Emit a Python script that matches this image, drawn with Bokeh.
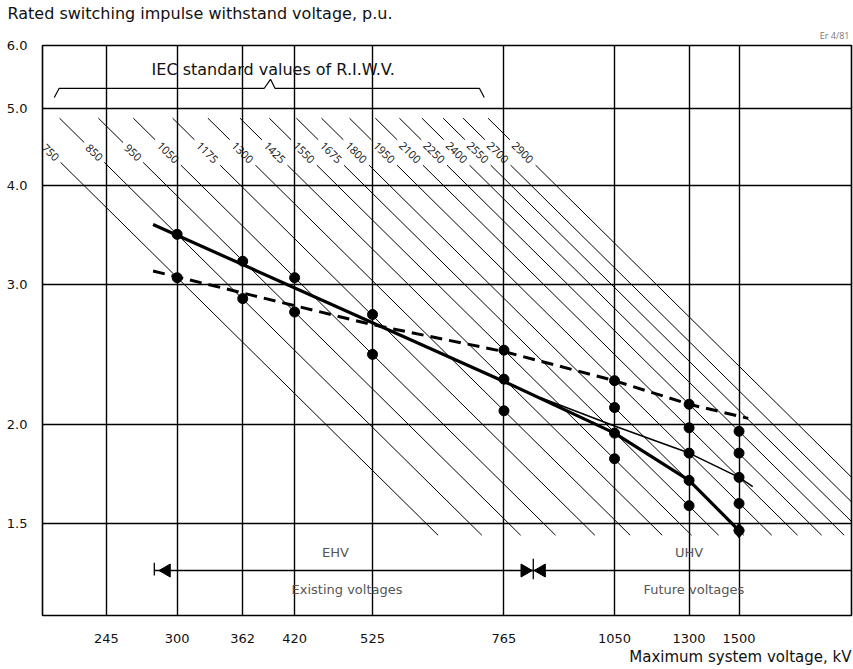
import numpy as np
from bokeh.plotting import figure
from bokeh.models import Range1d, FixedTicker, PrintfTickFormatter, Title
from bokeh.embed import file_html
from bokeh.resources import INLINE
from bokeh.core.properties import value

# ---------------- data ----------------
x_ticks = [245, 300, 362, 420, 525, 765, 1050, 1300, 1500]
y_ticks = [1.5, 2.0, 3.0, 4.0, 5.0, 6.0]

# IEC standard values of rated switching impulse withstand voltage (kV)
riwv_levels = [750, 850, 950, 1050, 1175, 1300, 1425, 1550, 1675, 1800,
               1950, 2100, 2250, 2400, 2550, 2700, 2900]

# plotted points: maximum system voltage (kV) and p.u. value
point_um = [300, 300, 362, 362, 420, 420, 525, 525,
            765, 765, 765,
            1050, 1050, 1050, 1050,
            1300, 1300, 1300, 1300, 1300,
            1500, 1500, 1500, 1500, 1500]
point_pu = [3.47, 3.06, 3.21, 2.88, 3.06, 2.77, 2.75, 2.45,
            2.48, 2.28, 2.08,
            2.27, 2.10, 1.95, 1.81,
            2.12, 1.98, 1.84, 1.70, 1.58,
            1.96, 1.84, 1.715, 1.59, 1.47]

# curves
thick_um = [280, 765, 1050, 1300, 1500]
thick_pu = [3.57, 2.265, 1.95, 1.70, 1.47]
thin_um = [850, 1050, 1300, 1500, 1560]
thin_pu = [2.16, 1.99, 1.84, 1.715, 1.67]
dashed_um = [280, 525, 765, 1050, 1300, 1540]
dashed_pu = [3.12, 2.67, 2.47, 2.27, 2.12, 2.035]

# ---------------- figure ----------------
FONT = "Open Sans"
WIDE = "DejaVu Sans"
p = figure(width=853, height=669, x_axis_type="log", y_axis_type="log",
           x_range=Range1d(204, 2070), y_range=Range1d(1.149, 6.0),
           output_backend="svg", toolbar_location=None,
           min_border_left=42, min_border_right=2, min_border_top=45,
           min_border_bottom=54, background_fill_color="white",
           border_fill_color="white")

p.outline_line_color = "black"
p.outline_line_width = 1.6

for ax, ticks, fmt, standoff in ((p.xaxis[0], x_ticks, "%d", 12),
                                 (p.yaxis[0], y_ticks, "%.1f", 9)):
    ax.ticker = FixedTicker(ticks=ticks, minor_ticks=[])
    ax.formatter = PrintfTickFormatter(format=fmt)
    ax.axis_line_color = None
    ax.major_tick_line_color = None
    ax.minor_tick_line_color = None
    ax.major_label_standoff = standoff
    ax.major_label_text_font = WIDE
    ax.major_label_text_font_size = "13px"
    ax.major_label_text_color = "#111111"

for g in (p.xgrid[0], p.ygrid[0]):
    g.grid_line_color = "black"
    g.grid_line_width = 1.4
    g.grid_line_alpha = 1.0

# ---------------- diagonal RIWV lines ----------------
k = np.sqrt(1.5)  # p.u. = kV * sqrt(3)/(sqrt(2)*Um)
pu_top, pu_lab, pu_bot = 4.86, 4.4, 1.45
xs, ys = [], []
lab_x, lab_y, lab_t = [], [], []
for r in riwv_levels:
    gap = 0.0125 if r < 1000 else 0.016
    up1, up2 = pu_top, pu_lab * 10 ** gap
    lo1, lo2 = pu_lab * 10 ** (-gap), pu_bot
    xs.append([r * k / up1, r * k / up2]); ys.append([up1, up2])
    xs.append([r * k / lo1, r * k / lo2]); ys.append([lo1, lo2])
    lab_x.append(r * k / pu_lab); lab_y.append(pu_lab); lab_t.append(str(r))
p.multi_line(xs, ys, line_color="black", line_width=1.0)
p.text(lab_x, lab_y, text=lab_t, angle=-np.pi / 4, text_align="center",
       text_baseline="middle", text_font=value(FONT), text_font_size="11px",
       text_color="#111111")

# ---------------- curves and points ----------------
p.line(dashed_um, dashed_pu, line_color="black", line_width=3,
       line_dash="12 7")
p.line(thin_um, thin_pu, line_color="black", line_width=1.6)
p.line(thick_um, thick_pu, line_color="black", line_width=3.2)
p.scatter(point_um, point_pu, size=10, color="black")
p.scatter([thick_um[-1]], [thick_pu[-1]], marker="diamond", size=15,
          color="black")

# ---------------- bracket "IEC standard values" ----------------
br_x = [211, 214, 385, 392, 397, 713, 723]
br_y = [5.16, 5.30, 5.30, 5.44, 5.30, 5.30, 5.16]
p.line(br_x, br_y, line_color="black", line_width=1.2)
p.text([395], [5.60], text=["IEC standard values of R.I.W.V."],
       text_align="center", text_baseline="middle", text_font=value(WIDE),
       text_font_size="16px", text_color="#111111")

# ---------------- EHV / UHV arrows ----------------
arr_pu = 1.309
p.segment([281], [arr_pu], [2100], [arr_pu], line_color="black",
          line_width=1.5)
p.segment([281, 832], [1.339, 1.355], [281, 832], [1.290, 1.276],
          line_color="black", line_width=1.3)
p.scatter([291, 852], [arr_pu, arr_pu], marker="triangle", angle=np.pi / 2,
          size=13, color="black")
p.scatter([812], [arr_pu], marker="triangle", angle=-np.pi / 2, size=13,
          color="black")
p.text([472, 1300], [1.379, 1.379], text=["EHV", "UHV"], text_align="center",
       text_baseline="middle", text_font=value(WIDE), text_font_size="13px",
       text_color="#555555")
p.text([488, 1318], [1.240, 1.240],
       text=["Existing voltages", "Future voltages"], text_align="center",
       text_baseline="middle", text_font=value(WIDE), text_font_size="13px",
       text_color="#555555")

# ---------------- outer texts ----------------
# outer (top-most) title: the y-axis quantity
p.title.text = "Rated switching impulse withstand voltage, p.u."
p.title.align = "left"
p.title.offset = -35
p.title.standoff = 0
p.title.text_font = WIDE
p.title.text_font_size = "16px"
p.title.text_font_style = "normal"
p.title.text_color = "#111111"

# inner small mark at the top right
p.add_layout(Title(text="Er 4/81", align="right", offset=2, standoff=8,
                   text_font=FONT, text_font_size="9px",
                   text_font_style="normal", text_color="#777777"), "above")

p.add_layout(Title(text="Maximum system voltage, kV", align="right",
                   standoff=0, text_font=WIDE, text_font_size="15px",
                   text_font_style="normal", text_color="#111111"), "below")

open("out.html", "w").write(file_html(p, INLINE))
